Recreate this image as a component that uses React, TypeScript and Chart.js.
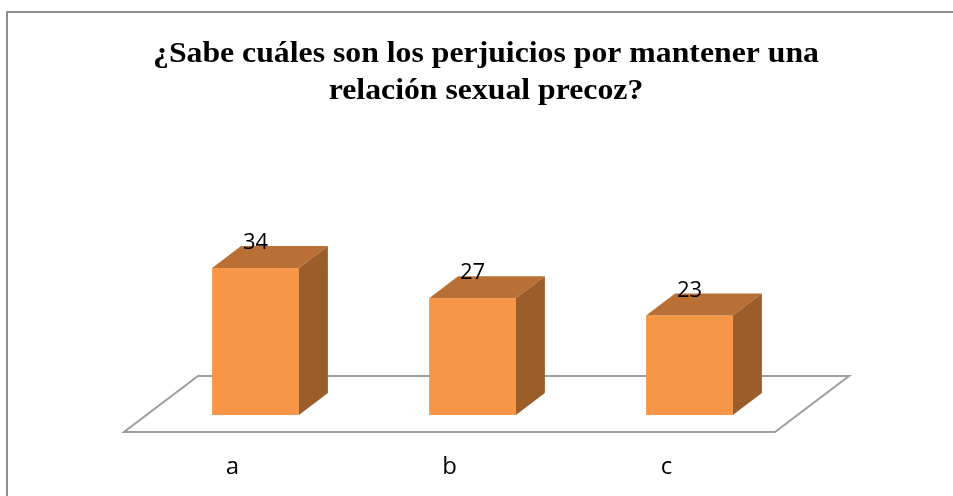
import React, { useEffect, useRef } from "react";
import { Chart, registerables } from "chart.js";

Chart.register(...registerables);

const TITLE_LINES = [
  "¿Sabe cuáles son los perjuicios por mantener una",
  "relación sexual precoz?",
];
const CATEGORIES = ["a", "b", "c"];
const VALUES = [34, 27, 23];
const Y_MAX = 40;

const FRONT = "#F79646";
const TOP = "#BA7034";
const SIDE = "#9B5E2B";
const FLOOR_LINE = "#9E9E9E";

// 3D geometry (pixels)
const BAR_DX = 29;
const BAR_DY = -22;
const FRONT_OFF_X = 23;
const FRONT_OFF_Y = 17;
const FLOOR_DX = 74;
const FLOOR_DY = -56;

const threeD = {
  id: "threeD",
  beforeDraw(chart: any) {
    const ctx = chart.ctx;
    ctx.save();
    ctx.fillStyle = "#ffffff";
    ctx.fillRect(0, 0, chart.width, chart.height);
    // outer border
    ctx.strokeStyle = "#8E8E8E";
    ctx.lineWidth = 2;
    ctx.beginPath();
    ctx.moveTo(7, chart.height + 5);
    ctx.lineTo(7, 12);
    ctx.lineTo(chart.width + 5, 12);
    ctx.stroke();
    // title
    ctx.fillStyle = "#000";
    ctx.font = "bold 29px 'Liberation Serif', 'Times New Roman', serif";
    ctx.textAlign = "center";
    ctx.textBaseline = "alphabetic";
    const cx = 486;
    const baselines = [62, 99];
    TITLE_LINES.forEach((line, i) => {
      ctx.save();
      ctx.translate(cx, baselines[i]);
      ctx.scale(1.095, 1);
      ctx.fillText(line, 0, 0);
      ctx.restore();
    });
    ctx.restore();
  },
  beforeDatasetsDraw(chart: any) {
    const ctx = chart.ctx;
    const area = chart.chartArea;
    const y0 = chart.scales.y.getPixelForValue(0);
    const fy = y0 + FRONT_OFF_Y;
    const fl = area.left - FRONT_OFF_X;
    const fr = area.right - FRONT_OFF_X;
    ctx.save();
    ctx.strokeStyle = FLOOR_LINE;
    ctx.lineWidth = 2;
    ctx.fillStyle = "#ffffff";
    ctx.beginPath();
    ctx.moveTo(fl, fy);
    ctx.lineTo(fr, fy);
    ctx.lineTo(fr + FLOOR_DX, fy + FLOOR_DY);
    ctx.lineTo(fl + FLOOR_DX, fy + FLOOR_DY);
    ctx.closePath();
    ctx.fill();
    ctx.stroke();
    ctx.restore();
  },
  afterDatasetsDraw(chart: any) {
    const ctx = chart.ctx;
    const meta = chart.getDatasetMeta(0);
    const xScale = chart.scales.x;
    ctx.save();
    meta.data.forEach((bar: any, i: number) => {
      const half = bar.width / 2;
      const l = bar.x - half;
      const r = bar.x + half;
      const t = bar.y;
      const b = bar.base;
      // top face
      ctx.fillStyle = TOP;
      ctx.beginPath();
      ctx.moveTo(l, t);
      ctx.lineTo(r, t);
      ctx.lineTo(r + BAR_DX, t + BAR_DY);
      ctx.lineTo(l + BAR_DX, t + BAR_DY);
      ctx.closePath();
      ctx.fill();
      // side face
      ctx.fillStyle = SIDE;
      ctx.beginPath();
      ctx.moveTo(r, t);
      ctx.lineTo(r + BAR_DX, t + BAR_DY);
      ctx.lineTo(r + BAR_DX, b + BAR_DY);
      ctx.lineTo(r, b);
      ctx.closePath();
      ctx.fill();
      // value label
      ctx.fillStyle = "#000";
      ctx.font = "22px 'Open Sans', 'Liberation Sans', sans-serif";
      ctx.textAlign = "center";
      ctx.textBaseline = "alphabetic";
      ctx.fillText(String(VALUES[i]), bar.x, t - 19);
      // category label
      ctx.font = "24px 'Open Sans', 'Liberation Sans', sans-serif";
      ctx.fillText(
        String(chart.data.labels[i]),
        xScale.getPixelForValue(i) - FRONT_OFF_X,
        474
      );
    });
    ctx.restore();
  },
};

export default function App() {
  const ref = useRef<HTMLCanvasElement | null>(null);
  useEffect(() => {
    if (!ref.current) return;
    const chart = new Chart(ref.current, {
      type: "bar",
      data: {
        labels: CATEGORIES,
        datasets: [
          {
            data: VALUES,
            backgroundColor: FRONT,
            borderWidth: 0,
            barPercentage: 0.4,
            categoryPercentage: 1,
          },
        ],
      },
      options: {
        responsive: false,
        animation: false,
        layout: { padding: { left: 147, right: 155, top: 242, bottom: 81 } },
        scales: {
          x: { display: false, offset: true },
          y: { display: false, min: 0, max: Y_MAX },
        },
        plugins: {
          legend: { display: false },
          tooltip: { enabled: false },
          title: { display: false },
        },
      },
      plugins: [threeD],
    });
    return () => chart.destroy();
  }, []);
  return (
    <div style={{ position: "absolute", left: 0, top: 0, width: 953, height: 496 }}>
      <canvas ref={ref} width={953} height={496} style={{ display: "block" }} />
    </div>
  );
}
